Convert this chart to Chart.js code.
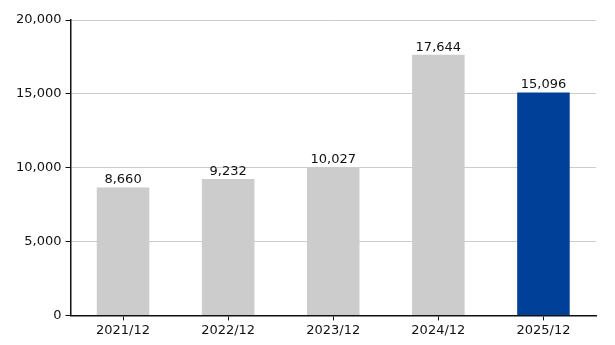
<!DOCTYPE html>
<html>
<head>
<meta charset="utf-8">
<script src="https://cdn.jsdelivr.net/npm/chart.js@4"></script>
<style>
  html, body { margin: 0; padding: 0; background: #fff; }
  #wrap { width: 615px; height: 345px; }
</style>
</head>
<body>
<div id="wrap"><canvas id="chart" width="615" height="345"></canvas></div>
<script>
// values
const categories = ['2021/12', '2022/12', '2023/12', '2024/12', '2025/12'];
const values = [8660, 9232, 10027, 17644, 15096];
const barColors = ['#cccccc', '#cccccc', '#cccccc', '#cccccc', '#004098'];
const yTicks = [0, 5000, 10000, 15000, 20000];

const FONT = 'Verdana, "DejaVu Sans", sans-serif';

// draw value labels above each bar
const valueLabels = {
    id: 'valueLabels',
    afterDatasetsDraw(chart) {
        let ctx = chart.ctx;
        let meta = chart.getDatasetMeta(0);
        ctx.save();
        ctx.font = '13px ' + FONT;
        ctx.fillStyle = '#111';
        ctx.textAlign = 'center';
        ctx.textBaseline = 'bottom';
        meta.data.forEach((bar, i) => {
            ctx.fillText(values[i].toLocaleString('en-US'), bar.x, bar.y - 1);
        });
        ctx.restore();
    }
};

let ctx = document.getElementById('chart');
let chart = new Chart(ctx, {
    type: 'bar',
    data: {
        labels: categories,
        datasets: [{
            data: values,
            backgroundColor: barColors,
            categoryPercentage: 1.0,
            barPercentage: 0.5,
        }]
    },
    options: {
        responsive: false,
        animation: false,
        layout: { padding: { left: 12, right: 19, top: 20, bottom: 5 } },
        plugins: {
            legend: { display: false },
            tooltip: { enabled: false },
        },
        scales: {
            x: {
                grid: {
                    offset: false,
                    drawOnChartArea: false,
                    tickColor: '#111',
                    tickLength: 5,
                },
                border: { color: '#111', width: 1.5 },
                ticks: {
                    color: '#111',
                    font: { family: FONT, size: 13 },
                    padding: 2,
                },
            },
            y: {
                min: 0,
                max: 20000,
                afterBuildTicks: (axis) => { axis.ticks = yTicks.map(v => ({ value: v })); },
                grid: {
                    color: '#cccccc',
                    tickColor: '#111',
                    tickLength: 5,
                },
                border: { color: '#111', width: 1.5 },
                ticks: {
                    color: '#111',
                    font: { family: FONT, size: 13 },
                    padding: 4,
                    callback: v => v.toLocaleString('en-US'),
                },
            },
        },
    },
    plugins: [valueLabels],
});
</script>
</body>
</html>
